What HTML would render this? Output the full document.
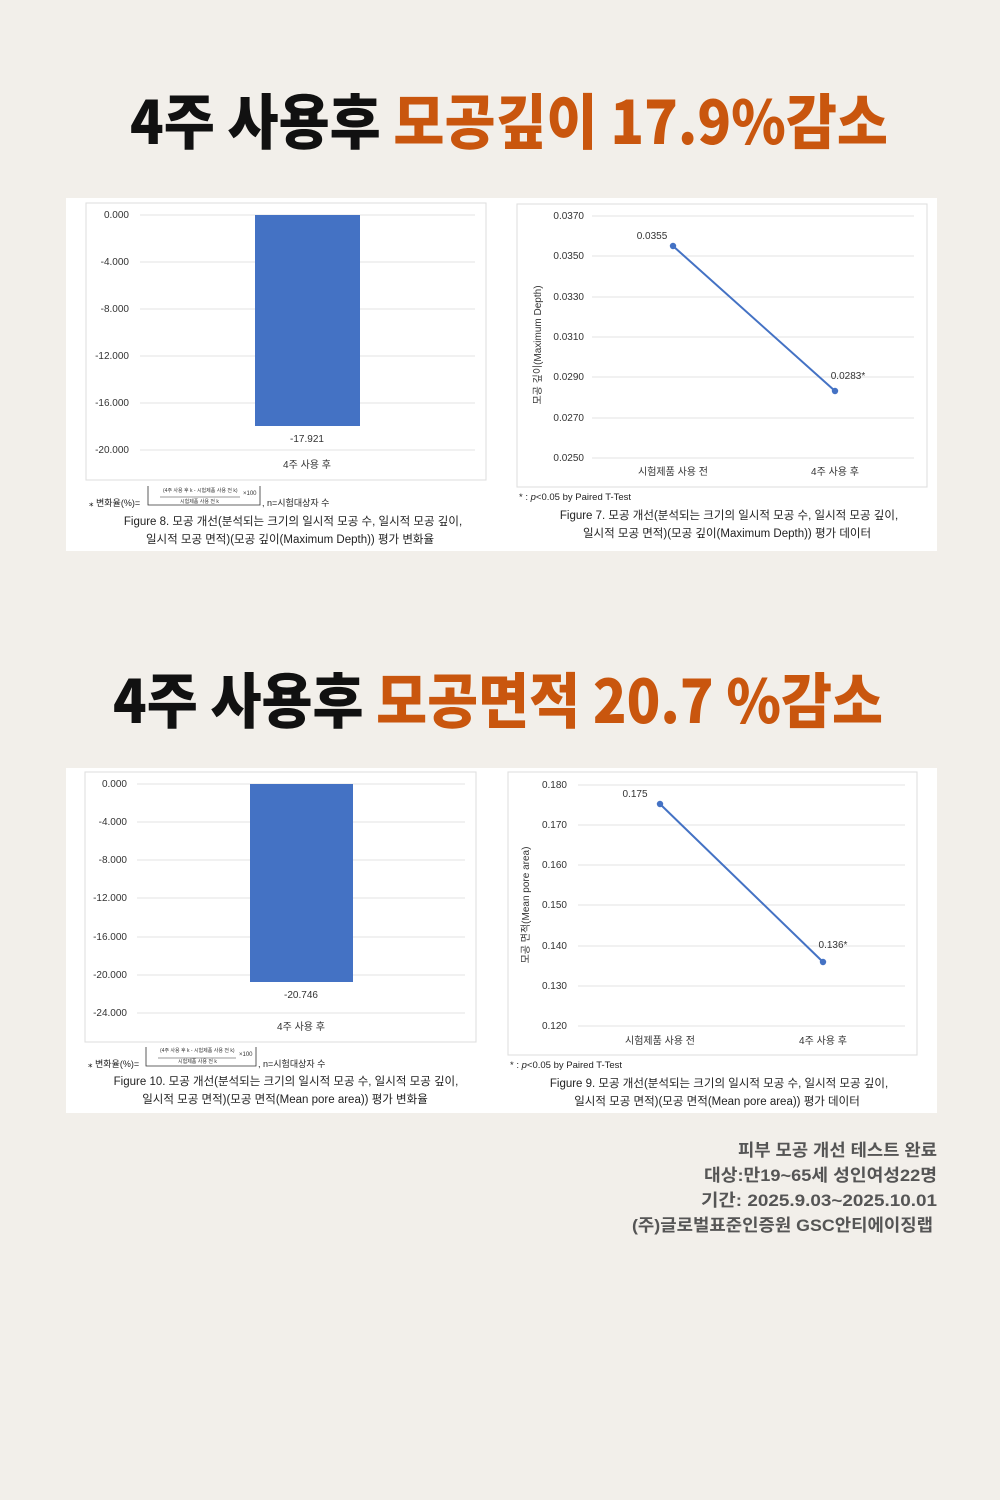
<!DOCTYPE html>
<html><head><meta charset="utf-8"><style>
html,body{margin:0;padding:0;background:#f2efea}
svg{display:block}
text{font-family:"Liberation Sans","Noto Sans CJK KR",sans-serif}
.t{font-family:"Noto Sans CJK KR","Liberation Sans",sans-serif;font-weight:900}
.f{font-family:"Noto Sans CJK KR","Liberation Sans",sans-serif;font-weight:bold}
.g{stroke:#e3e3e3;stroke-width:1}
.ax{font-size:10px;fill:#333}
.cap{font-size:11.5px;fill:#222}
</style></head><body>
<svg width="1000" height="1500" viewBox="0 0 1000 1500" xmlns="http://www.w3.org/2000/svg">
<rect width="1000" height="1500" fill="#f2efea"/>
<text class="t" x="130" y="144" font-size="60" textLength="758" lengthAdjust="spacingAndGlyphs" fill="#111">4주 사용후 <tspan fill="#c9560e">모공깊이 17.9%감소</tspan></text>
<text class="t" x="113" y="723" font-size="60" textLength="770" lengthAdjust="spacingAndGlyphs" fill="#111">4주 사용후 <tspan fill="#c9560e">모공면적 20.7 %감소</tspan></text>

<!-- panel 1 -->
<rect x="66" y="198" width="871" height="353" fill="#fff"/>
<rect x="86" y="203" width="400" height="277" fill="#fff" stroke="#ddd"/>
<g class="g">
<line x1="140" y1="215" x2="475" y2="215"/><line x1="140" y1="262" x2="475" y2="262"/><line x1="140" y1="309" x2="475" y2="309"/><line x1="140" y1="356" x2="475" y2="356"/><line x1="140" y1="403" x2="475" y2="403"/><line x1="140" y1="450" x2="475" y2="450"/>
</g>
<g class="ax" text-anchor="end">
<text x="129" y="218">0.000</text><text x="129" y="265">-4.000</text><text x="129" y="312">-8.000</text><text x="129" y="359">-12.000</text><text x="129" y="406">-16.000</text><text x="129" y="453">-20.000</text>
</g>
<rect x="255" y="215" width="105" height="211" fill="#4472c4"/>
<text class="ax" x="307" y="442" text-anchor="middle">-17.921</text>
<text class="ax" x="307" y="468" text-anchor="middle">4주 사용 후</text>
<text x="89" y="506" font-size="9" fill="#222">⁎ 변화율(%)=</text>
<path d="M148 486 V505 H260 V486 M148 494" fill="none" stroke="#333" stroke-width="0.8"/>
<line x1="160" y1="497" x2="240" y2="497" stroke="#333" stroke-width="0.6"/>
<text x="163" y="492" font-size="5" fill="#333">(4주 사용 후 k - 시험제품 사용 전 k)</text>
<text x="180" y="503" font-size="5" fill="#333">시험제품 사용 전 k</text>
<text x="243" y="495" font-size="6" fill="#333">×100</text>
<text x="262" y="506" font-size="9" fill="#222">, n=시험대상자 수</text>
<text class="cap" x="293" y="525" text-anchor="middle">Figure 8. 모공 개선(분석되는 크기의 일시적 모공 수, 일시적 모공 깊이,</text>
<text class="cap" x="290" y="543" text-anchor="middle">일시적 모공 면적)(모공 깊이(Maximum Depth)) 평가 변화율</text>

<rect x="517" y="204" width="410" height="283" fill="#fff" stroke="#ddd"/>
<g class="g">
<line x1="592" y1="216" x2="914" y2="216"/><line x1="592" y1="256" x2="914" y2="256"/><line x1="592" y1="297" x2="914" y2="297"/><line x1="592" y1="337" x2="914" y2="337"/><line x1="592" y1="377" x2="914" y2="377"/><line x1="592" y1="418" x2="914" y2="418"/><line x1="592" y1="458" x2="914" y2="458"/>
</g>
<g class="ax" text-anchor="end">
<text x="584" y="219">0.0370</text><text x="584" y="259">0.0350</text><text x="584" y="300">0.0330</text><text x="584" y="340">0.0310</text><text x="584" y="380">0.0290</text><text x="584" y="421">0.0270</text><text x="584" y="461">0.0250</text>
</g>
<text class="ax" transform="translate(541,345) rotate(-90)" text-anchor="middle">모공 깊이(Maximum Depth)</text>
<line x1="673" y1="246" x2="835" y2="391" stroke="#4472c4" stroke-width="2"/>
<circle cx="673" cy="246" r="3.2" fill="#4472c4"/><circle cx="835" cy="391" r="3.2" fill="#4472c4"/>
<text class="ax" x="652" y="239" text-anchor="middle">0.0355</text>
<text class="ax" x="848" y="379" text-anchor="middle">0.0283*</text>
<text class="ax" x="673" y="475" text-anchor="middle">시험제품 사용 전</text>
<text class="ax" x="835" y="475" text-anchor="middle">4주 사용 후</text>
<text x="519" y="500" font-size="9.5" fill="#222">* : <tspan font-style="italic">p</tspan>&lt;0.05 by Paired T-Test</text>
<text class="cap" x="729" y="519" text-anchor="middle">Figure 7. 모공 개선(분석되는 크기의 일시적 모공 수, 일시적 모공 깊이,</text>
<text class="cap" x="727" y="537" text-anchor="middle">일시적 모공 면적)(모공 깊이(Maximum Depth)) 평가 데이터</text>

<!-- panel 2 -->
<rect x="66" y="768" width="871" height="345" fill="#fff"/>
<rect x="85" y="772" width="391" height="270" fill="#fff" stroke="#ddd"/>
<g class="g">
<line x1="137" y1="784" x2="465" y2="784"/><line x1="137" y1="822" x2="465" y2="822"/><line x1="137" y1="860" x2="465" y2="860"/><line x1="137" y1="898" x2="465" y2="898"/><line x1="137" y1="937" x2="465" y2="937"/><line x1="137" y1="975" x2="465" y2="975"/><line x1="137" y1="1013" x2="465" y2="1013"/>
</g>
<g class="ax" text-anchor="end">
<text x="127" y="787">0.000</text><text x="127" y="825">-4.000</text><text x="127" y="863">-8.000</text><text x="127" y="901">-12.000</text><text x="127" y="940">-16.000</text><text x="127" y="978">-20.000</text><text x="127" y="1016">-24.000</text>
</g>
<rect x="250" y="784" width="103" height="198" fill="#4472c4"/>
<text class="ax" x="301" y="998" text-anchor="middle">-20.746</text>
<text class="ax" x="301" y="1030" text-anchor="middle">4주 사용 후</text>
<text x="88" y="1067" font-size="9" fill="#222">⁎ 변화율(%)=</text>
<path d="M146 1047 V1066 H256 V1047" fill="none" stroke="#333" stroke-width="0.8"/>
<line x1="158" y1="1058" x2="236" y2="1058" stroke="#333" stroke-width="0.6"/>
<text x="160" y="1052" font-size="5" fill="#333">(4주 사용 후 k - 시험제품 사용 전 k)</text>
<text x="178" y="1063" font-size="5" fill="#333">시험제품 사용 전 k</text>
<text x="239" y="1056" font-size="6" fill="#333">×100</text>
<text x="258" y="1067" font-size="9" fill="#222">, n=시험대상자 수</text>
<text class="cap" x="286" y="1085" text-anchor="middle">Figure 10. 모공 개선(분석되는 크기의 일시적 모공 수, 일시적 모공 깊이,</text>
<text class="cap" x="285" y="1103" text-anchor="middle">일시적 모공 면적)(모공 면적(Mean pore area)) 평가 변화율</text>

<rect x="508" y="772" width="409" height="283" fill="#fff" stroke="#ddd"/>
<g class="g">
<line x1="578" y1="785" x2="905" y2="785"/><line x1="578" y1="825" x2="905" y2="825"/><line x1="578" y1="865" x2="905" y2="865"/><line x1="578" y1="905" x2="905" y2="905"/><line x1="578" y1="946" x2="905" y2="946"/><line x1="578" y1="986" x2="905" y2="986"/><line x1="578" y1="1026" x2="905" y2="1026"/>
</g>
<g class="ax" text-anchor="end">
<text x="567" y="788">0.180</text><text x="567" y="828">0.170</text><text x="567" y="868">0.160</text><text x="567" y="908">0.150</text><text x="567" y="949">0.140</text><text x="567" y="989">0.130</text><text x="567" y="1029">0.120</text>
</g>
<text class="ax" transform="translate(529,905) rotate(-90)" text-anchor="middle">모공 면적(Mean pore area)</text>
<line x1="660" y1="804" x2="823" y2="962" stroke="#4472c4" stroke-width="2"/>
<circle cx="660" cy="804" r="3.2" fill="#4472c4"/><circle cx="823" cy="962" r="3.2" fill="#4472c4"/>
<text class="ax" x="635" y="797" text-anchor="middle">0.175</text>
<text class="ax" x="833" y="948" text-anchor="middle">0.136*</text>
<text class="ax" x="660" y="1044" text-anchor="middle">시험제품 사용 전</text>
<text class="ax" x="823" y="1044" text-anchor="middle">4주 사용 후</text>
<text x="510" y="1068" font-size="9.5" fill="#222">* : <tspan font-style="italic">p</tspan>&lt;0.05 by Paired T-Test</text>
<text class="cap" x="719" y="1087" text-anchor="middle">Figure 9. 모공 개선(분석되는 크기의 일시적 모공 수, 일시적 모공 깊이,</text>
<text class="cap" x="717" y="1105" text-anchor="middle">일시적 모공 면적)(모공 면적(Mean pore area)) 평가 데이터</text>

<g class="f" font-size="17" fill="#555">
<text x="738" y="1156" textLength="199" lengthAdjust="spacingAndGlyphs">피부 모공 개선 테스트 완료</text>
<text x="704" y="1181" textLength="233" lengthAdjust="spacingAndGlyphs">대상:만19~65세 성인여성22명</text>
<text x="701" y="1206" textLength="236" lengthAdjust="spacingAndGlyphs">기간: 2025.9.03~2025.10.01</text>
<text x="632" y="1231" textLength="301" lengthAdjust="spacingAndGlyphs">(주)글로벌표준인증원 GSC안티에이징랩</text>
</g>
</svg>
</body></html>
